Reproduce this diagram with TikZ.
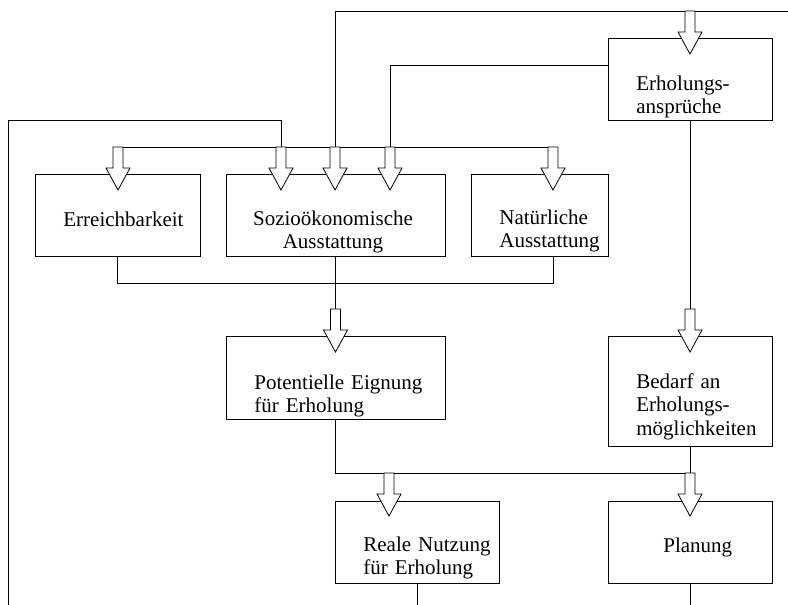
\documentclass[tikz,border=0pt]{standalone}
\usepackage{fontspec}
\setmainfont{Liberation Serif}
\usepackage{tikz}

\tikzset{
    box/.style={rectangle, draw, inner sep=0},
    lbl/.style={inner sep=0, anchor=base west, align=left, text width=#1,
        font=\fontsize{21}{23.5}\selectfont},
    lbl/.default=160
}
\newcommand{\hollowarrow}[1]{\draw [fill=white] ([xshift=-5pt]#1) -- ++(0,21) -- ++(-7,0) -- ++(12,22) -- ++(12,-22) -- ++(-7,0) -- ++(0,-21) -- cycle;}

\begin{document}
\begin{tikzpicture}[x=1pt, y=-1pt, line width=0.8pt]
    \useasboundingbox (0,0) rectangle (788,605);
    \node [box, minimum width=164, minimum height=82] (anspr) at (690, 79) {};
    \node [box, minimum width=165, minimum height=82] (erreich) at (117.5, 215) {};
    \node [box, minimum width=219, minimum height=82] (sozio) at (335.5, 215) {};
    \node [box, minimum width=137, minimum height=82] (natur) at (539.5, 215) {};
    \node [box, minimum width=219, minimum height=83] (eignung) at (335.5, 377.5) {};
    \node [box, minimum width=164, minimum height=110] (bedarf) at (690, 391) {};
    \node [box, minimum width=164, minimum height=82] (nutzung) at (417, 542) {};
    \node [box, minimum width=164, minimum height=82] (planung) at (690, 542) {};
    \node [lbl] (anspr-t) at (636, 90) {Erholungs-\\ansprüche};
    \node [lbl] (erreich-t) at (63, 226) {Erreichbarkeit};
    \node [lbl=210, anchor=base, align=center] (sozio-t) at (333, 225) {Sozioökonomische\\Ausstattung};
    \node [lbl] (natur-t) at (499, 224) {Natürliche\\Ausstattung};
    \node [lbl=190] (eignung-t) at (254, 389) {Potentielle Eignung\\für Erholung};
    \node [lbl] (bedarf-t) at (636, 388) {Bedarf an\\Erholungs-\\möglichkeiten};
    \node [lbl] (nutzung-t) at (363, 551) {Reale Nutzung\\für Erholung};
    \node [lbl] (planung-t) at (663, 552) {Planung};
    \coordinate (top-e) at (788, 11);
    \coordinate (top-a) at (690, 11);
    \coordinate (left-s) at (8, 605);
    \coordinate (bus-1) at (118, 147);
    \coordinate (bus-2) at (281, 147);
    \coordinate (bus-3) at (335, 147);
    \coordinate (bus-4) at (390, 147);
    \coordinate (bus-5) at (553, 147);
    \coordinate (arr-e) at (335.5, 309);
    \coordinate (arr-b) at (690, 309);
    \coordinate (arr-n) at (389, 473);
    \coordinate (arr-p) at (690, 473);
    \coordinate (out-n) at (417, 605);
    \coordinate (out-p) at (690, 605);
    \draw (top-e) -| (bus-3);
    \draw ([yshift=14pt]anspr.west) -| (bus-4);
    \draw (left-s) |- ([yshift=27pt]bus-2) -- (bus-2);
    \draw (bus-1) -- (bus-5);
    \draw (erreich.south) -- ++(0,27) -| ([xshift=14pt]natur.south);
    \draw (sozio.south) -- (arr-e);
    \draw (anspr.south) -- (arr-b);
    \draw (eignung.south) -- ++(0,54) -| (bedarf.south);
    \draw (nutzung.south) -- (out-n);
    \draw (planung.south) -- (out-p);
    \foreach \c in {top-a, bus-1, bus-2, bus-3, bus-4, bus-5, arr-e, arr-b, arr-n, arr-p}
        {\hollowarrow{\c}}
    \end{tikzpicture}
\end{document}
